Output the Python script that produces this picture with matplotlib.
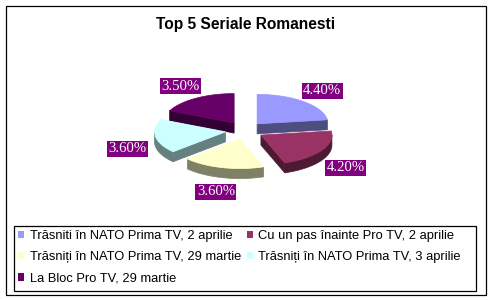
import numpy as np
import matplotlib
matplotlib.use("Agg")
import matplotlib.pyplot as plt
from matplotlib.patches import Polygon, Rectangle, Patch
import matplotlib.colors as mcolors

# ---- data ----
title = "Top 5 Seriale Romanesti"
categories = [
    "Trăsniti în NATO Prima TV, 2 aprilie",
    "Cu un pas înainte Pro TV, 2 aprilie",
    "Trăsniți în NATO Prima TV, 29 martie",
    "Trăsniți în NATO Prima TV, 3 aprilie",
    "La Bloc Pro TV, 29 martie",
]
values = [4.40, 4.20, 3.60, 3.60, 3.50]
value_labels = ["4.40%", "4.20%", "3.60%", "3.60%", "3.50%"]
colors = ["#9999FF", "#993366", "#FFFFCC", "#CCFFFF", "#660066"]

W, H = 492, 300
fig = plt.figure(figsize=(W / 100, H / 100), dpi=100)
ax = fig.add_axes([0, 0, 1, 1])
ax.set_xlim(0, W)
ax.set_ylim(H, 0)
ax.axis("off")

# outer chart border
ax.add_patch(Rectangle((5.5, 5.5), 480, 289, fill=False, ec="black", lw=0.9))

ax.text(246, 25, title, ha="center", va="center", fontsize=11.2,
        fontweight="bold", family="Liberation Sans")

# ---- 3D exploded pie geometry ----
cx, cy = 244.5, 130.5
rx, ry = 71.0, 29.5
ex, ey = 19.2, 8.8
depth = 10.0

total = sum(values)
cum = np.concatenate([[0], np.cumsum(values)])
starts = 90 - cum[:-1] / total * 360
ends = 90 - cum[1:] / total * 360


def dark(c, f=0.5):
    r, g, b = mcolors.to_rgb(c)
    return (r * f, g * f, b * f)


slices = []
for i in range(len(values)):
    a0, a1 = starts[i], ends[i]
    mid = np.radians((a0 + a1) / 2)
    px = cx + ex * np.cos(mid)
    py = cy - ey * np.sin(mid)
    slices.append((i, a0, a1, mid, px, py))

order = sorted(slices, key=lambda s: -np.sin(s[3]))


def pt(px, py, a, dz=0.0):
    t = np.radians(a)
    return (px + rx * np.cos(t), py - ry * np.sin(t) + dz)


for i, a0, a1, mid, px, py in order:
    col = colors[i]
    dcol = dark(col)
    # radial walls
    if np.cos(np.radians(a0)) < -1e-6:
        P = pt(px, py, a0)
        ax.add_patch(Polygon([(px, py), P, (P[0], P[1] + depth), (px, py + depth)],
                             closed=True, fc=dcol, ec=dcol, lw=0.5))
    if np.cos(np.radians(a1)) > 1e-6:
        P = pt(px, py, a1)
        ax.add_patch(Polygon([(px, py), P, (P[0], P[1] + depth), (px, py + depth)],
                             closed=True, fc=dcol, ec=dcol, lw=0.5))
    # outer wall on the front half
    for k in (-1, 0, 1):
        lo = max(a1, -180 + 360 * k)
        hi = min(a0, 360 * k)
        if hi > lo:
            th = np.linspace(lo, hi, 80)
            top = [pt(px, py, a) for a in th]
            bot = [pt(px, py, a, depth) for a in th[::-1]]
            ax.add_patch(Polygon(top + bot, closed=True, fc=dcol, ec=dcol, lw=0.5))
    # top face
    th = np.linspace(a1, a0, 120)
    pts = [(px, py)] + [pt(px, py, a) for a in th]
    ax.add_patch(Polygon(pts, closed=True, fc=col, ec=col, lw=0.5))

# data labels
Lx, Ly = 99.0, 44.0
for i, a0, a1, mid, px, py in slices:
    lx = px + Lx * np.cos(mid)
    ly = py - Ly * np.sin(mid) + (depth if np.sin(mid) < 0 else 0)
    ax.text(lx, ly, value_labels[i], ha="center", va="center", color="white",
            fontsize=10.6, family="Liberation Serif",
            bbox=dict(boxstyle="square,pad=0.1", fc="#800080", ec="none"))

# legend frame
ax.add_patch(Rectangle((13.5, 225.5), 462, 65, fill=False, ec="black", lw=0.9))
handles = [Patch(fc=c, ec="none") for c in colors]
ordr = [0, 2, 4, 1, 3]
leg = ax.legend([handles[j] for j in ordr], [categories[j] for j in ordr],
                ncol=2, loc="upper left",
                bbox_to_anchor=(14 / W, 1 - 226 / H),
                bbox_transform=fig.transFigure,
                frameon=False, prop={"family": "Liberation Sans", "size": 9.3},
                handlelength=0.5, handleheight=0.5, handletextpad=0.4,
                columnspacing=0.45, labelspacing=0.72, borderpad=0.3,
                borderaxespad=0)

fig.savefig("out.png", dpi=100)
